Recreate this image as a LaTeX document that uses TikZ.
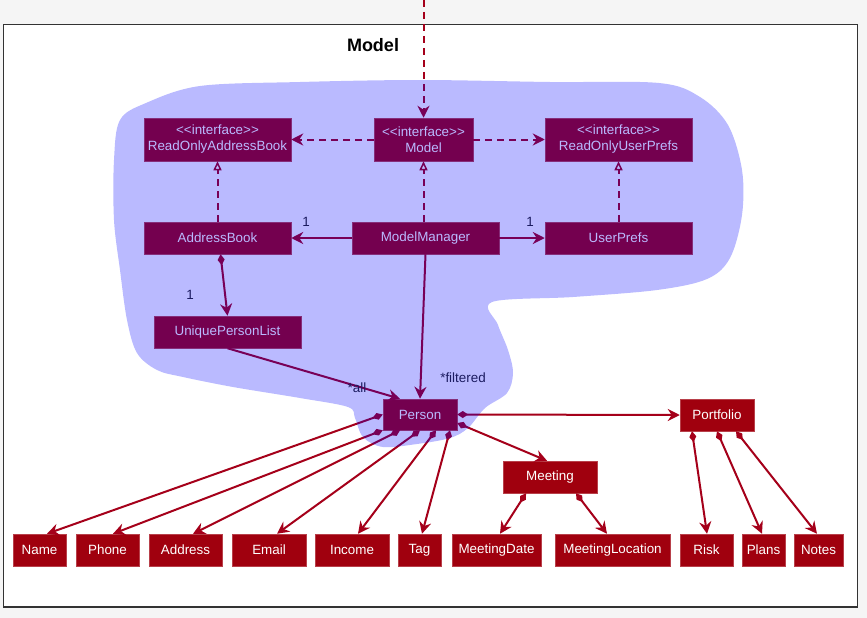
\documentclass[tikz,border=0pt]{standalone}
\usepackage{fontspec}
\setmainfont{Liberation Sans}[Ligatures=TeXOff]
\usetikzlibrary{arrows.meta,calc}
\definecolor{boxred}{RGB}{160,0,14}
\definecolor{edgered}{RGB}{165,0,26}
\definecolor{outbg}{RGB}{245,245,245}
\begin{document}
\begin{tikzpicture}[x=1pt,y=-1pt,
  box/.style={rectangle, fill=boxred, draw=boxred!75!white, line width=0.5pt, inner sep=0pt, text=white, font=\fontsize{13.4}{16}\selectfont, align=center, minimum height=32pt},
  edge/.style={draw=edgered, line width=2pt},
  tipS/.style={},
  assoc/.style={edge, -{Stealth[length=12pt,width=12pt,inset=4pt]}},
  comp/.style={edge, {Diamond[length=11pt,width=7pt]}-{Stealth[length=12pt,width=12pt,inset=4pt]}},
  dep/.style={edge, dash pattern=on 7pt off 5pt, -{Stealth[length=12pt,width=12pt,inset=4pt]}},
  real/.style={edge, dash pattern=on 7pt off 5pt, -{Triangle[open,length=9pt,width=8pt,line width=1.5pt]}},
  mult/.style={text=black!85, font=\fontsize{13.4}{16}\selectfont, inner sep=0pt},
]
\useasboundingbox (0,0) rectangle (867,618);
\fill[outbg] (0,0) rectangle (867,618);
\filldraw[fill=white, draw=black!80, line width=1.3pt] (3.5,24.5) rectangle (857.5,607);

\node[font=\bfseries\fontsize{18}{20}\selectfont] (title) at (373,45) {Model};

% upper boxes
\node[box, minimum width=147pt, minimum height=43pt] (roab) at (217.5,139.5) {<<interface>>\\ReadOnlyAddressBook};
\node[box, minimum width=99pt, minimum height=43pt] (model) at (423.5,139.5) {<<interface>>\\Model};
\node[box, minimum width=147pt, minimum height=43pt] (roup) at (618.5,139.5) {<<interface>>\\ReadOnlyUserPrefs};
\node[box, minimum width=147pt] (ab) at (217.5,238) {AddressBook};
\node[box, minimum width=147pt] (mm) at (425.5,238) {ModelManager};
\node[box, minimum width=147pt] (up) at (618.5,238) {UserPrefs};
\node[box, minimum width=147pt] (upl) at (227.5,332) {UniquePersonList};
\node[box, minimum width=74pt, minimum height=31pt] (person) at (420,414.5) {Person};
\node[box, minimum width=74pt] (portfolio) at (717,415) {Portfolio};
\node[box, minimum width=94pt] (meeting) at (550,477) {Meeting};

% bottom row
\node[box, minimum width=53pt] (name) at (39.5,550) {Name};
\node[box, minimum width=63pt] (phone) at (107.5,550) {Phone};
\node[box, minimum width=73pt] (address) at (185.5,550) {Address};
\node[box, minimum width=74pt] (email) at (269,550) {Email};
\node[box, minimum width=74pt] (income) at (352,550) {Income};
\node[box, minimum width=43pt] (tag) at (419.5,550) {Tag};
\node[box, minimum width=89pt] (mdate) at (496.5,550) {MeetingDate};
\node[box, minimum width=115pt] (mloc) at (612.5,550) {MeetingLocation};
\node[box, minimum width=53pt] (risk) at (706.5,550) {Risk};
\node[box, minimum width=43pt] (plans) at (763.5,550) {Plans};
\node[box, minimum width=49pt] (notes) at (818.5,550) {Notes};

% connectors
\coordinate (topin) at (423.5,0);
\draw[dep] (topin) -- (model.north);
\draw[dep] (model.west) -- (roab.east);
\draw[dep] (model.east) -- (roup.west);
\draw[real] (ab.north) -- (roab.south);
\draw[real] (model.south |- mm.north) -- (model.south);
\draw[real] (up.north) -- (roup.south);
\draw[assoc] (mm.west) -- (ab.east);
\draw[assoc] (mm.east) -- (up.west);
\draw[comp] ([xshift=3pt]ab.south) -- (upl.north);
\draw[assoc] (upl.south) -- ([xshift=-20pt]person.north);
\draw[assoc] (mm.south) -- (person.north);

\draw[comp] (person.east) -- (portfolio.west);
\draw[comp] ([yshift=-8.5pt]person.east) -- ([xshift=-3pt]meeting.north);
\draw[comp] (person.west) -- ([xshift=7.5pt]name.north);
\draw[comp] (person.south west) -- ([xshift=5.5pt]phone.north);
\draw[comp] ([xshift=-20pt]person.south) -- ([xshift=7.5pt]address.north);
\draw[comp] (person.south) -- ([xshift=8pt]email.north);
\draw[comp] ([xshift=16pt]person.south) -- ([xshift=6pt]income.north);
\draw[comp] ([xshift=30pt]person.south) -- ([xshift=2.5pt]tag.north);
\draw[comp] ([xshift=-24pt]meeting.south) -- ([xshift=3.5pt]mdate.north);
\draw[comp] ([xshift=26pt]meeting.south) -- ([xshift=-5.5pt]mloc.north);
\draw[comp] ([xshift=-25pt]portfolio.south) -- ([xshift=0.5pt]risk.north);
\draw[comp] (portfolio.south) -- ([xshift=-1.5pt]plans.north);
\draw[comp] ([xshift=19pt]portfolio.south) -- ([xshift=-1.5pt]notes.north);

% multiplicities
\node[mult] (m1) at (306,222) {1};
\node[mult] (m2) at (530,222) {1};
\node[mult] (m3) at (190,295) {1};
\node[mult] (m4) at (357,388) {*all};
\node[mult] (m5) at (463,378) {*filtered};

% translucent blob
\fill[blue, fill opacity=0.27] plot[smooth cycle, tension=0.55] coordinates {
 (146,103) (200,86) (300,82) (420,80) (550,82) (659,83) (700,97) (728,125)
 (742,170) (742,215) (730,258) (707,279) (657,290) (573,297) (492,302)
 (498,325) (508,350) (513,373) (507,393) (485,408) (468,428) (450,438)
 (417,444) (383,447) (363,437) (355,418) (348,407) (300,398) (233,387)
 (183,377) (157,370) (137,353) (127,320) (120,270) (114,220) (114,160) (120,120)};
\end{tikzpicture}
\end{document}
